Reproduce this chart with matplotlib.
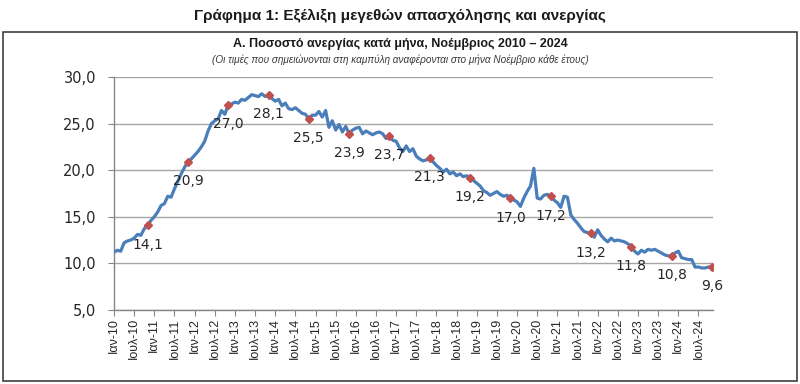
import numpy as np
import matplotlib
matplotlib.use("Agg")
import matplotlib.pyplot as plt
from matplotlib.patches import Rectangle

# ── Monthly unemployment rate (%), Jan 2010 – Nov 2024 ──────────────────────
rate_2010 = [11.2, 11.4, 11.3, 12.2, 12.4, 12.5, 12.7, 13.1, 13.0, 13.7, 14.1, 14.6]
rate_2011 = [15.0, 15.5, 16.2, 16.4, 17.2, 17.1, 18.0, 18.8, 19.6, 20.3, 20.9, 21.2]
rate_2012 = [21.6, 22.0, 22.5, 23.1, 24.2, 25.0, 25.3, 25.5, 26.4, 26.0, 27.0, 27.1]
rate_2013 = [27.3, 27.2, 27.6, 27.5, 27.8, 28.1, 28.0, 27.9, 28.2, 27.9, 28.1, 27.7]
rate_2014 = [27.4, 27.6, 26.9, 27.2, 26.6, 26.5, 26.7, 26.4, 26.1, 26.0, 25.5, 25.9]
rate_2015 = [25.9, 26.3, 25.7, 26.4, 24.6, 25.3, 24.3, 24.9, 24.1, 24.7, 23.9, 24.3]
rate_2016 = [24.5, 24.6, 23.9, 24.2, 24.0, 23.8, 24.0, 24.1, 23.9, 23.4, 23.7, 23.2]
rate_2017 = [23.1, 22.4, 22.0, 22.6, 22.0, 22.3, 21.5, 21.2, 21.0, 21.1, 21.3, 20.9]
rate_2018 = [20.5, 20.2, 19.8, 20.1, 19.6, 19.8, 19.4, 19.6, 19.3, 19.4, 19.2, 18.9]
rate_2019 = [18.6, 18.3, 17.8, 17.6, 17.3, 17.5, 17.7, 17.4, 17.2, 17.3, 17.0, 16.8]
rate_2020 = [16.6, 16.1, 17.0, 17.7, 18.3, 20.2, 17.0, 16.9, 17.3, 17.4, 17.2, 16.8]
rate_2021 = [16.5, 16.0, 17.2, 17.1, 15.2, 14.7, 14.3, 13.8, 13.4, 13.3, 13.2, 12.8]
rate_2022 = [13.6, 13.0, 12.6, 12.3, 12.7, 12.4, 12.5, 12.4, 12.3, 12.1, 11.8, 11.3]
rate_2023 = [11.0, 11.4, 11.2, 11.5, 11.4, 11.5, 11.3, 11.1, 10.9, 10.8, 10.8, 11.1]
rate_2024 = [11.3, 10.6, 10.5, 10.4, 10.4, 9.6, 9.6, 9.5, 9.5, 9.6, 9.6]

years = list(range(2010, 2025))
month_abbr = ["Ιαν", "Ιουλ"]
y_ticks = [5, 10, 15, 20, 25, 30]

rates = np.array(rate_2010 + rate_2011 + rate_2012 + rate_2013 + rate_2014
                 + rate_2015 + rate_2016 + rate_2017 + rate_2018 + rate_2019
                 + rate_2020 + rate_2021 + rate_2022 + rate_2023 + rate_2024)
months = np.arange(len(rates))
nov_idx = months[months % 12 == 10]

tick_pos = [12 * (y - 2010) + 6 * k for y in years for k in range(2)]
tick_lab = [f"{month_abbr[k]}-{str(y)[2:]}" for y in years for k in range(2)]

# ── Style ───────────────────────────────────────────────────────────────────
C_LINE = "#4a7ebb"
C_MARK = "#c0504d"
C_GRID = "#a6a6a6"
C_AXIS = "#868686"
C_TEXT = "#262626"
TITLE_FONT = ["Liberation Sans", "DejaVu Sans"]

fig = plt.figure(figsize=(8, 3.84), dpi=100)
ax = fig.add_axes([0.1425, 0.193, 0.749, 0.6065])

ax.plot(months, rates, color=C_LINE, lw=2.3, solid_joinstyle="round", zorder=3)
ax.plot(nov_idx, rates[nov_idx], ls="none", marker="D", ms=4.5,
        color=C_MARK, mec=C_MARK, zorder=4)

for i in nov_idx:
    ax.annotate(f"{rates[i]:.1f}".replace(".", ","), xy=(i, rates[i]),
                xytext=(0, -14), textcoords="offset points",
                ha="center", va="center", fontsize=10, color=C_TEXT,
                family="DejaVu Sans", zorder=5)

ax.set_xlim(0, 178.4)
ax.set_ylim(5, 30)
ax.set_yticks(y_ticks)
ax.set_yticklabels([f"{v:.1f}".replace(".", ",") for v in y_ticks],
                   fontsize=10.5, family="DejaVu Sans", color=C_TEXT)
ax.set_xticks(tick_pos)
ax.set_xticklabels(tick_lab, rotation=90, fontsize=9,
                   family=["Liberation Sans Narrow", "Liberation Sans", "DejaVu Sans"],
                   color=C_TEXT)
ax.tick_params(axis="both", direction="out", length=4, color=C_AXIS, width=0.8)
ax.tick_params(axis="x", pad=2)
ax.tick_params(axis="y", pad=9)

ax.yaxis.grid(True, color=C_GRID, lw=1)
ax.set_axisbelow(True)
for s in ["top", "right"]:
    ax.spines[s].set_visible(False)
for s in ["left", "bottom"]:
    ax.spines[s].set_color(C_AXIS)
    ax.spines[s].set_linewidth(1)

# ── Titles and frame ────────────────────────────────────────────────────────
fig.text(0.5, 0.958, "Γράφημα 1: Εξέλιξη μεγεθών απασχόλησης και ανεργίας",
         ha="center", va="center", fontsize=11, fontweight="bold",
         family=TITLE_FONT, color="#1a1a1a")
fig.text(0.5, 0.886, "Α. Ποσοστό ανεργίας κατά μήνα, Νοέμβριος 2010 – 2024",
         ha="center", va="center", fontsize=9, fontweight="bold",
         family=TITLE_FONT, color="#1a1a1a")
fig.text(0.5, 0.845,
         "(Οι τιμές που σημειώνονται στη καμπύλη αναφέρονται στο μήνα Νοέμβριο κάθε έτους)",
         ha="center", va="center", fontsize=7.2, style="italic",
         family=TITLE_FONT, color="#3a3a3a")

fig.add_artist(Rectangle((0.004, 0.008), 0.992, 0.908, transform=fig.transFigure,
                         fill=False, edgecolor="#404040", lw=1.2))

fig.savefig("out.png", dpi=100)
